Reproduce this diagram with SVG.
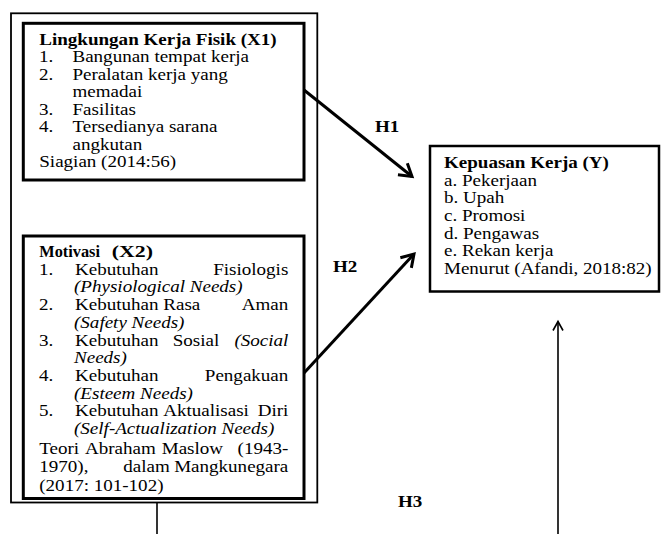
<svg xmlns="http://www.w3.org/2000/svg" width="661" height="534" viewBox="0 0 661 534">
<style>
.t{font-family:"Liberation Serif","Times New Roman",serif;font-size:16px;fill:#000}
.b{font-weight:bold}
.i{font-style:italic}
.e{text-anchor:end}
.box{fill:#fff;stroke:#000}
.ln{fill:none;stroke:#000}
</style>
<defs>
<marker id="ah" markerUnits="userSpaceOnUse" markerWidth="30" markerHeight="30" viewBox="-15 -15 30 30" refX="0" refY="0" orient="auto">
<path d="M-12,-7.5 L0,0 L-12,7.5" fill="none" stroke="#000" stroke-width="3"/>
</marker>
<marker id="ahs" markerUnits="userSpaceOnUse" markerWidth="24" markerHeight="24" viewBox="-12 -12 24 24" refX="0" refY="0" orient="auto">
<path d="M-9,-5 L0,0 L-9,5" fill="none" stroke="#000" stroke-width="1.6"/>
</marker>
</defs>
<rect width="661" height="534" fill="#fff"/>

<g id="outer-box">
<rect class="box" x="11" y="13.3" width="306.3" height="489.2" stroke-width="1.8"/>
</g>

<g id="x1">
<rect class="box" x="23.3" y="23.3" width="280.7" height="156.7" stroke-width="3"/>
<g class="t" transform="scale(1.19 1)">
<text class="b" x="33" y="45">Lingkungan Kerja Fisik (X1)</text>
<text x="32.8" y="62.5">1.</text><text x="60.9" y="62.5">Bangunan tempat kerja</text>
<text x="32.8" y="80">2.</text><text x="60.9" y="80">Peralatan kerja yang</text>
<text x="60.9" y="97.5">memadai</text>
<text x="32.8" y="115">3.</text><text x="60.9" y="115">Fasilitas</text>
<text x="32.8" y="132.5">4.</text><text x="60.9" y="132.5">Tersedianya sarana</text>
<text x="60.9" y="150">angkutan</text>
<text x="33" y="167.5">Siagian (2014:56)</text>
</g>
</g>

<g id="x2">
<rect class="box" x="23.3" y="236" width="280.7" height="262.5" stroke-width="3"/>
<g class="t" transform="scale(1.19 1)">
<text class="b" x="33" y="257" textLength="51" lengthAdjust="spacingAndGlyphs">Motivasi</text><text class="b" x="93.9" y="257" textLength="34.7" lengthAdjust="spacingAndGlyphs">(X2)</text>
<text x="32.8" y="275">1.</text><text x="63" y="275">Kebutuhan</text><text class="e" x="242.3" y="275">Fisiologis</text>
<text class="i" x="62.2" y="292.5">(Physiological Needs)</text>
<text x="32.8" y="310">2.</text><text x="63" y="310">Kebutuhan</text><text x="137.2" y="310">Rasa</text><text class="e" x="242.3" y="310">Aman</text>
<text class="i" x="62.2" y="328">(Safety Needs)</text>
<text x="32.8" y="346">3.</text><text x="63" y="346">Kebutuhan</text><text x="145.1" y="346">Sosial</text><text class="i e" x="242.3" y="346">(Social</text>
<text class="i" x="62.2" y="363.5">Needs)</text>
<text x="32.8" y="381.5">4.</text><text x="63" y="381.5">Kebutuhan</text><text class="e" x="242.3" y="381.5">Pengakuan</text>
<text class="i" x="62.2" y="399">(Esteem Needs)</text>
<text x="32.8" y="416.5">5.</text><text x="63" y="416.5">Kebutuhan</text><text x="137.2" y="416.5">Aktualisasi</text><text class="e" x="242.3" y="416.5">Diri</text>
<text class="i" x="62.2" y="434.5">(Self-Actualization Needs)</text>
<text x="33" y="454">Teori</text><text x="71.4" y="454">Abraham</text><text x="135.9" y="454">Maslow</text><text class="e" x="242.3" y="454">(1943-</text>
<text x="33" y="472.5">1970),</text><text x="103.6" y="472.5">dalam</text><text class="e" x="242.3" y="472.5">Mangkunegara</text>
<text x="33" y="491">(2017: 101-102)</text>
</g>
</g>

<g id="y">
<rect class="box" x="430" y="146" width="229" height="145.5" stroke-width="2.5"/>
<g class="t" transform="scale(1.19 1)">
<text class="b" x="373.1" y="168">Kepuasan Kerja (Y)</text>
<text x="373.1" y="185.7">a. Pekerjaan</text>
<text x="373.1" y="203.4">b. Upah</text>
<text x="373.1" y="221.1">c. Promosi</text>
<text x="373.1" y="238.8">d. Pengawas</text>
<text x="373.1" y="256.5">e. Rekan kerja</text>
<text x="373.1" y="274.2">Menurut (Afandi, 2018:82)</text>
</g>
</g>

<g id="connectors">
<line class="ln" x1="304" y1="90" x2="412" y2="176.5" stroke-width="3" marker-end="url(#ah)"/>
<line class="ln" x1="304" y1="373" x2="414" y2="254" stroke-width="3" marker-end="url(#ah)"/>
<line class="ln" x1="558" y1="534" x2="558" y2="321.5" stroke-width="1.6" marker-end="url(#ahs)"/>
<line class="ln" x1="157" y1="502.5" x2="157" y2="534" stroke-width="1.6"/>
<g class="t b" transform="scale(1.19 1)">
<text x="315.1" y="132">H1</text>
<text x="279.8" y="272">H2</text>
<text x="334.5" y="507">H3</text>
</g>
</g>
</svg>
